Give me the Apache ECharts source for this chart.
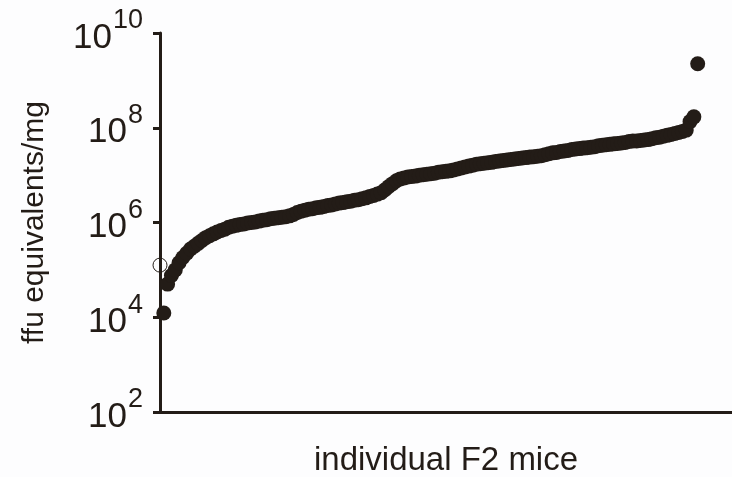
<!DOCTYPE html>
<html>
<head>
<meta charset="utf-8">
<script src="https://cdn.jsdelivr.net/npm/echarts@6/dist/echarts.min.js"></script>
<style>html,body{margin:0;padding:0;background:#fdfdfe}#c{width:732px;height:477px}</style>
</head>
<body>
<div id="c"></div>
<script>
// log10(ffu equivalents/mg) for each F2 mouse, sorted (filled circles)
const logFfu = [
4.09,4.70,4.88,5.00,5.15,5.26,5.35,5.44,5.50,5.56,
5.62,5.68,5.72,5.76,5.80,5.83,5.86,5.90,5.92,5.94,
5.96,5.97,5.99,6.00,6.01,6.03,6.05,6.06,6.08,6.09,
6.10,6.11,6.12,6.14,6.17,6.21,6.24,6.26,6.28,6.29,
6.31,6.32,6.34,6.36,6.37,6.39,6.41,6.42,6.44,6.45,
6.47,6.48,6.50,6.52,6.55,6.57,6.60,6.63,6.69,6.76,
6.82,6.88,6.92,6.94,6.96,6.97,6.98,7.00,7.01,7.02,
7.03,7.04,7.06,7.07,7.08,7.09,7.11,7.13,7.15,7.17,
7.19,7.21,7.23,7.24,7.25,7.26,7.27,7.29,7.30,7.31,
7.32,7.33,7.34,7.35,7.36,7.37,7.38,7.39,7.40,7.41,
7.43,7.45,7.47,7.48,7.50,7.51,7.52,7.54,7.55,7.56,
7.57,7.58,7.59,7.60,7.62,7.63,7.64,7.65,7.66,7.67,
7.68,7.69,7.71,7.72,7.72,7.73,7.74,7.75,7.77,7.79,
7.80,7.82,7.84,7.86,7.88,7.90,7.92,7.95,8.13,8.23,
9.35
];
// open circle value
const openLog = [5.10];
const yTickExps = [2, 4, 6, 8, 10];
const xName = 'individual F2 mice';
const yName = 'ffu equivalents/mg';

const ink = '#231c17';
const filled = logFfu.map((v, i) => [i + 1, Math.pow(10, v)]);
const open = openLog.map(v => [0, Math.pow(10, v)]);

const chart = echarts.init(document.getElementById('c'));
chart.setOption({
  animation: false,
  backgroundColor: '#fdfdfe',
  grid: { left: 160, right: 0, top: 33, bottom: 65, containLabel: false, outerBoundsMode: 'none' },
  xAxis: {
    type: 'value', min: 0, max: 150,
    name: xName, nameLocation: 'middle', nameGap: 32,
    nameTextStyle: { fontFamily: 'Liberation Sans', fontSize: 33, color: ink },
    axisLine: { show: true, onZero: false, lineStyle: { color: ink, width: 3 } },
    axisTick: { show: false }, axisLabel: { show: false }, splitLine: { show: false }
  },
  yAxis: {
    type: 'log', logBase: 10,
    min: Math.pow(10, yTickExps[0]), max: Math.pow(10, yTickExps[yTickExps.length - 1]),
    interval: 2,
    name: yName, nameLocation: 'middle', nameGap: 110,
    nameTextStyle: { fontFamily: 'Liberation Sans', fontSize: 30, color: ink },
    axisLine: { show: true, lineStyle: { color: ink, width: 3 } },
    axisTick: { show: true, length: 7, lineStyle: { color: ink, width: 3 } },
    splitLine: { show: false },
    axisLabel: {
      margin: 17,
      formatter: function (val) {
        const e = Math.round(Math.log10(val));
        return '{b|10}{s|' + e + '}';
      },
      rich: {
        b: { fontFamily: 'Liberation Sans', fontSize: 35, color: ink, padding: [16, 0, 6, 0] },
        s: { fontFamily: 'Liberation Sans', fontSize: 27, color: ink, verticalAlign: 'top', padding: [3, 0, 0, 1] }
      }
    }
  },
  series: [
    {
      type: 'scatter', data: filled, symbol: 'circle', symbolSize: 15,
      itemStyle: { color: ink, opacity: 1 }
    },
    {
      type: 'scatter', data: open, symbol: 'circle', symbolSize: 14,
      itemStyle: { color: 'rgba(0,0,0,0)', borderColor: ink, borderWidth: 1, opacity: 1 }
    }
  ]
});
</script>
</body>
</html>
